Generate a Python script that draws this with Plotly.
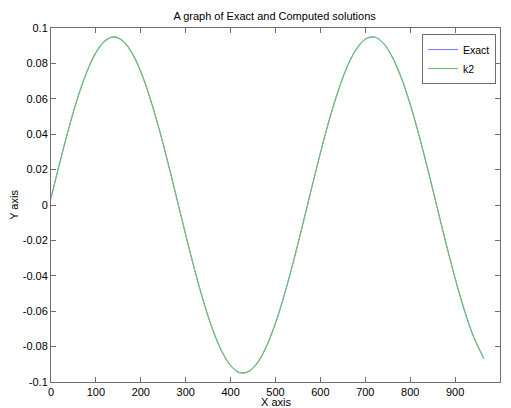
import plotly.graph_objects as go

# Values (x in steps of 20, last point at the curve end)
x_vals = [0, 20, 40, 60, 80, 100, 120, 140, 160, 180, 200, 220, 240, 260, 280,
          300, 320, 340, 360, 380, 400, 420, 440, 460, 480, 500, 520, 540, 560,
          580, 600, 620, 640, 660, 680, 700, 720, 740, 760, 780, 800, 820, 840,
          860, 880, 900, 920, 940, 964]
exact_vals = [0.0039, 0.0244, 0.0437, 0.0610, 0.0753, 0.0861, 0.0927, 0.0950,
              0.0927, 0.0861, 0.0753, 0.0609, 0.0437, 0.0244, 0.0039, -0.0168,
              -0.0367, -0.0548, -0.0703, -0.0825, -0.0907, -0.0947, -0.0941,
              -0.0891, -0.0798, -0.0667, -0.0505, -0.0318, -0.0116, 0.0091,
              0.0294, 0.0483, 0.0648, 0.0784, 0.0881, 0.0937, 0.0949, 0.0915,
              0.0837, 0.0720, 0.0569, 0.0390, 0.0193, -0.0013, -0.0219, -0.0414,
              -0.0589, -0.0737, -0.0867]
k2_vals = list(exact_vals)

x_ticks = [0, 100, 200, 300, 400, 500, 600, 700, 800, 900, 1000]
y_ticks = [0.1, 0.08, 0.06, 0.04, 0.02, 0, -0.02, -0.04, -0.06, -0.08, -0.1]
y_tick_text = ["0.1", "0.08", "0.06", "0.04", "0.02", "0", "-0.02", "-0.04",
               "-0.06", "-0.08", "-0.1"]

font_family = "Arial, Liberation Sans, sans-serif"

fig = go.Figure()
fig.add_trace(go.Scatter(x=x_vals, y=exact_vals, mode="lines", name="Exact",
                         line=dict(color="#7a7aff", width=1, shape="spline")))
fig.add_trace(go.Scatter(x=x_vals, y=k2_vals, mode="lines", name="k2",
                         line=dict(color="#70c070", width=1.2, shape="spline")))

axis_common = dict(
    showline=True, linecolor="#6e6e6e", linewidth=1, mirror="ticks",
    ticks="inside", ticklen=5, tickcolor="#6e6e6e", tickwidth=1,
    showgrid=False, zeroline=False, automargin=False,
    tickfont=dict(family=font_family, size=11, color="#000"),
)

# The page body adds an 8px offset, so the figure is sized to fit the window.
fig.update_layout(
    width=503, height=400,
    margin=dict(l=43, r=11, t=20, b=26, autoexpand=False),
    paper_bgcolor="white", plot_bgcolor="white",
    title=dict(text="A graph of Exact and Computed solutions", x=0.530, xanchor="center",
               y=0.979, yanchor="middle",
               font=dict(family=font_family, size=11, color="#000")),
    xaxis=dict(range=[0, 1000], tickvals=x_ticks, **axis_common),
    yaxis=dict(range=[-0.1, 0.1], tickvals=y_ticks, ticktext=y_tick_text, **axis_common,
               title=dict(text="Y axis", standoff=3,
                          font=dict(family=font_family, size=11, color="#000"))),
    legend=dict(x=0.991, xanchor="right", y=0.983, yanchor="top",
                bgcolor="white", bordercolor="#6e6e6e", borderwidth=1,
                font=dict(family=font_family, size=10.5, color="#000"),
                tracegroupgap=0, itemwidth=30),
    showlegend=True,
    annotations=[dict(text="X axis", xref="paper", yref="paper", x=0.5, y=-0.057,
                      xanchor="center", yanchor="middle", showarrow=False, borderpad=0,
                      font=dict(family=font_family, size=11, color="#000"))],
)

fig.write_html("out.html")
